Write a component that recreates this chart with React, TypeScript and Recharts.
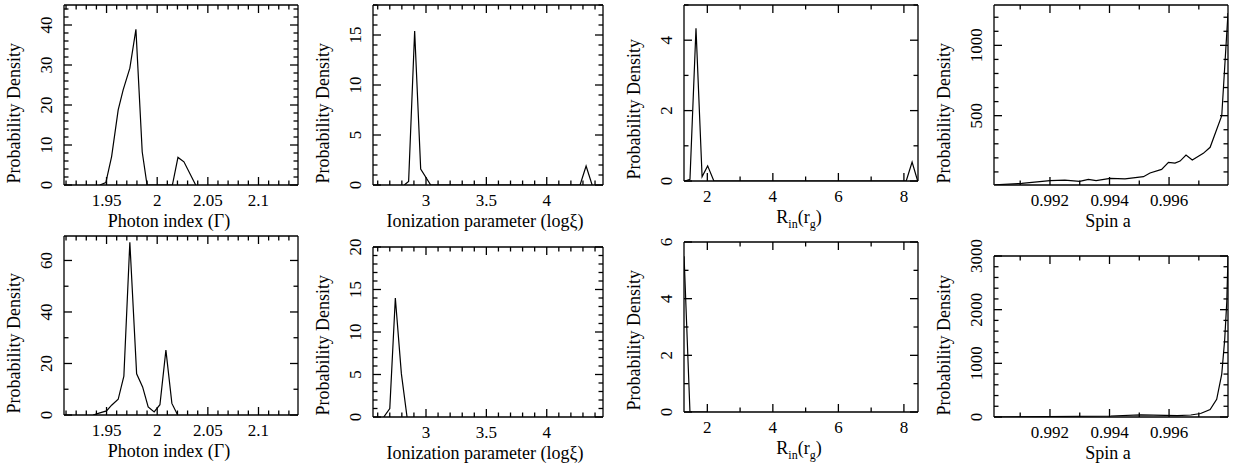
import React from "react";
import { LineChart, Line, XAxis, YAxis, ReferenceLine } from "recharts";

const FONT = "'Liberation Serif', 'Times New Roman', serif";

// photon index (Gamma), upper row
const gammaTopX = [1.9434, 1.9493, 1.955, 1.9615, 1.9664, 1.973, 1.979, 1.9852, 1.99, 2.015, 2.0205, 2.0264, 2.038];
const gammaTopY = [0, 0.6, 7.1, 18.8, 23.8, 29.2, 38.9, 8.3, 0, 0, 6.9, 5.8, 0];
// ionization parameter, upper row
const xiTopX = [2.82, 2.856, 2.906, 2.956, 3.039, 4.276, 4.326, 4.376];
const xiTopY = [0, 0.35, 15.4, 1.6, 0, 0, 1.9, 0];
// inner radius, upper row
const rinTopX = [1.32, 1.47, 1.654, 1.84, 2.01, 2.2, 8.07, 8.25, 8.42];
const rinTopY = [0, 0.05, 4.34, 0.12, 0.43, 0, 0, 0.54, 0];
// spin, upper row
const spinTopX = [0.99015, 0.99105, 0.992, 0.9925, 0.993, 0.99329, 0.99355, 0.99402, 0.99452, 0.99514, 0.99536, 0.99575, 0.99598, 0.9962, 0.99637, 0.99657, 0.99678, 0.99715, 0.99738, 0.99777, 0.99798];
const spinTopY = [8, 19, 38, 42, 33, 47, 38, 54, 50, 66, 92, 118, 168, 163, 177, 220, 185, 232, 275, 500, 1230];

// lower row
const gammaBotX = [1.9368, 1.9434, 1.95, 1.955, 1.9615, 1.9671, 1.973, 1.9797, 1.9856, 1.9911, 1.997, 2.0027, 2.0086, 2.0145, 2.0202];
const gammaBotY = [0, 0.8, 1.6, 3.8, 6.1, 15.1, 67.1, 16.0, 10.9, 3.1, 1.2, 4.0, 25.2, 4.5, 0];
const xiBotX = [2.65, 2.7, 2.746, 2.796, 2.843];
const xiBotY = [0, 1.0, 14.0, 5.1, 0];
const rinBotX = [1.29, 1.47, 2.0];
const rinBotY = [5.5, 0, 0];
const spinBotX = [0.99012, 0.99404, 0.99505, 0.99547, 0.99628, 0.99673, 0.99706, 0.99738, 0.9976, 0.99777, 0.99787, 0.99794, 0.99798];
const spinBotY = [0, 19, 40, 35, 25, 37, 65, 140, 330, 800, 1450, 2150, 3000];

// labelled tick values
const gammaLabels = [1.95, 2, 2.05, 2.1];
const xiLabels = [3, 3.5, 4];
const rinLabels = [2, 4, 6, 8];
const spinLabels = [0.992, 0.994, 0.996];

const zip = (xs: number[], ys: number[]) => xs.map((x, i) => ({ x, y: ys[i] }));

function steps(from: number, to: number, step: number) {
  const out: number[] = [];
  const n = Math.round((to - from) / step);
  for (let i = 0; i <= n; i++) out.push(+(from + i * step).toFixed(6));
  return out;
}

const isMajor = (v: number, labels: number[]) => labels.some((l) => Math.abs(l - v) < 1e-9);

const MAJOR = 8; // px
const MINOR = 4.5; // px
const txt = { fontFamily: FONT, fill: "#000" };
const axisStyle = { stroke: "#000", strokeWidth: 1.3 };

// axis ticks only carry the numbers; the inward tick marks are reference segments
const bottomTick = (labels: number[]) => (p: any) => {
  const v = p.payload.value;
  if (!isMajor(v, labels)) return <g />;
  return (
    <text x={p.x} y={p.y + 21} textAnchor="middle" fontSize={17} {...txt}>
      {String(v)}
    </text>
  );
};

const leftTick = (labels: number[]) => (p: any) => {
  const v = p.payload.value;
  if (!isMajor(v, labels)) return <g />;
  const tx = p.x - 12;
  return (
    <text x={tx} y={p.y} transform={`rotate(-90 ${tx} ${p.y})`} textAnchor="middle" fontSize={17} {...txt}>
      {String(v)}
    </text>
  );
};

const noTick = () => <g />;

type Panel = {
  left: number; top: number; width: number; height: number;
  l: number; r: number; t: number; b: number;
  xDomain: [number, number]; xTicks: number[]; xLabels: number[];
  yDomain: [number, number]; yTicks: number[]; yLabels: number[];
  title: React.ReactNode; titleDx: number;
  data: { x: number; y: number }[];
};

const gammaTitle = "Photon index (Γ)";
const xiTitle = "Ionization parameter (logξ)";
const rinTitle = (
  <>
    R<tspan fontSize={12} dy={5}>in</tspan>
    <tspan dy={-5}>(r</tspan>
    <tspan fontSize={12} dy={5}>g</tspan>
    <tspan dy={-5}>)</tspan>
  </>
);
const spinTitle = "Spin a";

const gammaX = { xDomain: [1.908, 2.139] as [number, number], xTicks: steps(1.91, 2.13, 0.01), xLabels: gammaLabels, title: gammaTitle, titleDx: -12 };
const xiX = { xDomain: [2.561, 4.466] as [number, number], xTicks: steps(2.6, 4.4, 0.1), xLabels: xiLabels, title: xiTitle, titleDx: -3 };
const rinX = { xDomain: [1.288, 8.43] as [number, number], xTicks: steps(2, 8, 1), xLabels: rinLabels, title: rinTitle, titleDx: -2 };
const spinX = { xDomain: [0.99012, 0.99798] as [number, number], xTicks: steps(0.991, 0.997, 0.001), xLabels: spinLabels, title: spinTitle, titleDx: -3 };

const panels: Panel[] = [
  { left: 0, top: 0, width: 310, height: 232, l: 64, r: 298, t: 5, b: 185, ...gammaX,
    yDomain: [0, 45], yTicks: steps(0, 44, 2), yLabels: [0, 10, 20, 30, 40], data: zip(gammaTopX, gammaTopY) },
  { left: 310, top: 0, width: 310, height: 232, l: 373, r: 603, t: 5, b: 185, ...xiX,
    yDomain: [0, 18], yTicks: steps(0, 18, 1), yLabels: [0, 5, 10, 15], data: zip(xiTopX, xiTopY) },
  { left: 620, top: 0, width: 304, height: 232, l: 684, r: 918, t: 5, b: 181, ...rinX,
    yDomain: [0, 5], yTicks: steps(0, 5, 1), yLabels: [0, 2, 4], data: zip(rinTopX, rinTopY) },
  { left: 924, top: 0, width: 310, height: 232, l: 994, r: 1228, t: 5, b: 185, ...spinX,
    yDomain: [7, 1287], yTicks: steps(100, 1200, 100), yLabels: [500, 1000], data: zip(spinTopX, spinTopY) },
  { left: 0, top: 232, width: 310, height: 233, l: 64, r: 298, t: 236, b: 415, ...gammaX,
    yDomain: [0, 69.5], yTicks: steps(0, 60, 10), yLabels: [0, 20, 40, 60], data: zip(gammaBotX, gammaBotY) },
  { left: 310, top: 232, width: 310, height: 233, l: 373, r: 603, t: 247, b: 417, ...xiX,
    yDomain: [0, 20], yTicks: steps(0, 20, 1), yLabels: [0, 5, 10, 15, 20], data: zip(xiBotX, xiBotY) },
  { left: 620, top: 232, width: 304, height: 233, l: 684, r: 918, t: 242, b: 412, ...rinX,
    yDomain: [0, 6], yTicks: steps(0, 6, 1), yLabels: [0, 2, 4, 6], data: zip(rinBotX, rinBotY) },
  { left: 924, top: 232, width: 310, height: 233, l: 994, r: 1228, t: 256, b: 417, ...spinX,
    yDomain: [0, 3000], yTicks: steps(0, 3000, 200), yLabels: [0, 1000, 2000, 3000], data: zip(spinBotX, spinBotY) },
];

function tickSegments(p: Panel) {
  const [x0, x1] = p.xDomain;
  const [y0, y1] = p.yDomain;
  // pixel lengths -> data lengths for this frame
  const dxPx = (x1 - x0) / (p.r - p.l);
  const dyPx = (y1 - y0) / (p.b - p.t);
  const segs: React.ReactNode[] = [];
  p.xTicks.forEach((v) => {
    const len = (isMajor(v, p.xLabels) ? MAJOR : MINOR) * dyPx;
    segs.push(<ReferenceLine key={`xb${v}`} segment={[{ x: v, y: y0 }, { x: v, y: y0 + len }]} stroke="#000" strokeWidth={1.3} ifOverflow="visible" />);
    segs.push(<ReferenceLine key={`xt${v}`} segment={[{ x: v, y: y1 }, { x: v, y: y1 - len }]} stroke="#000" strokeWidth={1.3} ifOverflow="visible" />);
  });
  p.yTicks.forEach((v) => {
    const len = (isMajor(v, p.yLabels) ? MAJOR : MINOR) * dxPx;
    segs.push(<ReferenceLine key={`yl${v}`} segment={[{ x: x0, y: v }, { x: x0 + len, y: v }]} stroke="#000" strokeWidth={1.3} ifOverflow="visible" />);
    segs.push(<ReferenceLine key={`yr${v}`} segment={[{ x: x1, y: v }, { x: x1 - len, y: v }]} stroke="#000" strokeWidth={1.3} ifOverflow="visible" />);
  });
  return segs;
}

function PanelChart({ p }: { p: Panel }) {
  // the mirrored top/right axes take 1px each (a 0-size axis is not drawn)
  const margin = { top: p.t - p.top - 1, right: p.left + p.width - p.r - 1, bottom: 0, left: 0 };
  const axisH = p.top + p.height - p.b;
  const axisW = p.l - p.left;
  const cx = (p.l + p.r) / 2 - p.left + p.titleDx;
  const by = p.b - p.top;
  const yx = axisW - 44;
  const yy = by - 1.5;
  return (
    <div style={{ position: "absolute", left: p.left, top: p.top, width: p.width, height: p.height }}>
      <LineChart width={p.width} height={p.height} data={p.data} margin={margin}>
        <XAxis
          dataKey="x" type="number" domain={p.xDomain} allowDataOverflow ticks={p.xTicks} interval={0}
          tickSize={0} tickMargin={0} tickLine={false} height={axisH} axisLine={axisStyle}
          tick={bottomTick(p.xLabels)}
        />
        <XAxis
          xAxisId="top" orientation="top" dataKey="x" type="number" domain={p.xDomain} allowDataOverflow ticks={p.xTicks}
          interval={0} tickSize={0} tickMargin={0} tickLine={false} height={1} axisLine={axisStyle}
          tick={noTick}
        />
        <YAxis
          type="number" domain={p.yDomain} allowDataOverflow ticks={p.yTicks} interval={0}
          tickSize={0} tickMargin={0} tickLine={false} width={axisW} axisLine={axisStyle}
          tick={leftTick(p.yLabels)}
        />
        <YAxis
          yAxisId="right" orientation="right" type="number" domain={p.yDomain} allowDataOverflow ticks={p.yTicks}
          interval={0} tickSize={0} tickMargin={0} tickLine={false} width={1} axisLine={axisStyle}
          tick={noTick}
        />
        {tickSegments(p)}
        <Line type="linear" dataKey="y" stroke="#000" strokeWidth={1.2} dot={false} isAnimationActive={false} />
        {/* invisible copy so the mirrored top/right axes get a scale */}
        <Line xAxisId="top" yAxisId="right" type="linear" dataKey="y" stroke="none" dot={false} activeDot={false} legendType="none" isAnimationActive={false} />
      </LineChart>
      <svg width={p.width} height={p.height} style={{ position: "absolute", left: 0, top: 0, pointerEvents: "none" }}>
        <text x={cx} y={by + 42} textAnchor="middle" fontSize={18} {...txt}>{p.title}</text>
        <text x={yx} y={yy} transform={`rotate(-90 ${yx} ${yy})`} textAnchor="start" fontSize={18} {...txt}>
          Probability Density
        </text>
      </svg>
    </div>
  );
}

export default function App() {
  return (
    <div style={{ position: "absolute", left: 0, top: 0, width: 1234, height: 465, background: "#fff", fontFamily: FONT }}>
      {panels.map((p, i) => (
        <PanelChart key={i} p={p} />
      ))}
    </div>
  );
}
